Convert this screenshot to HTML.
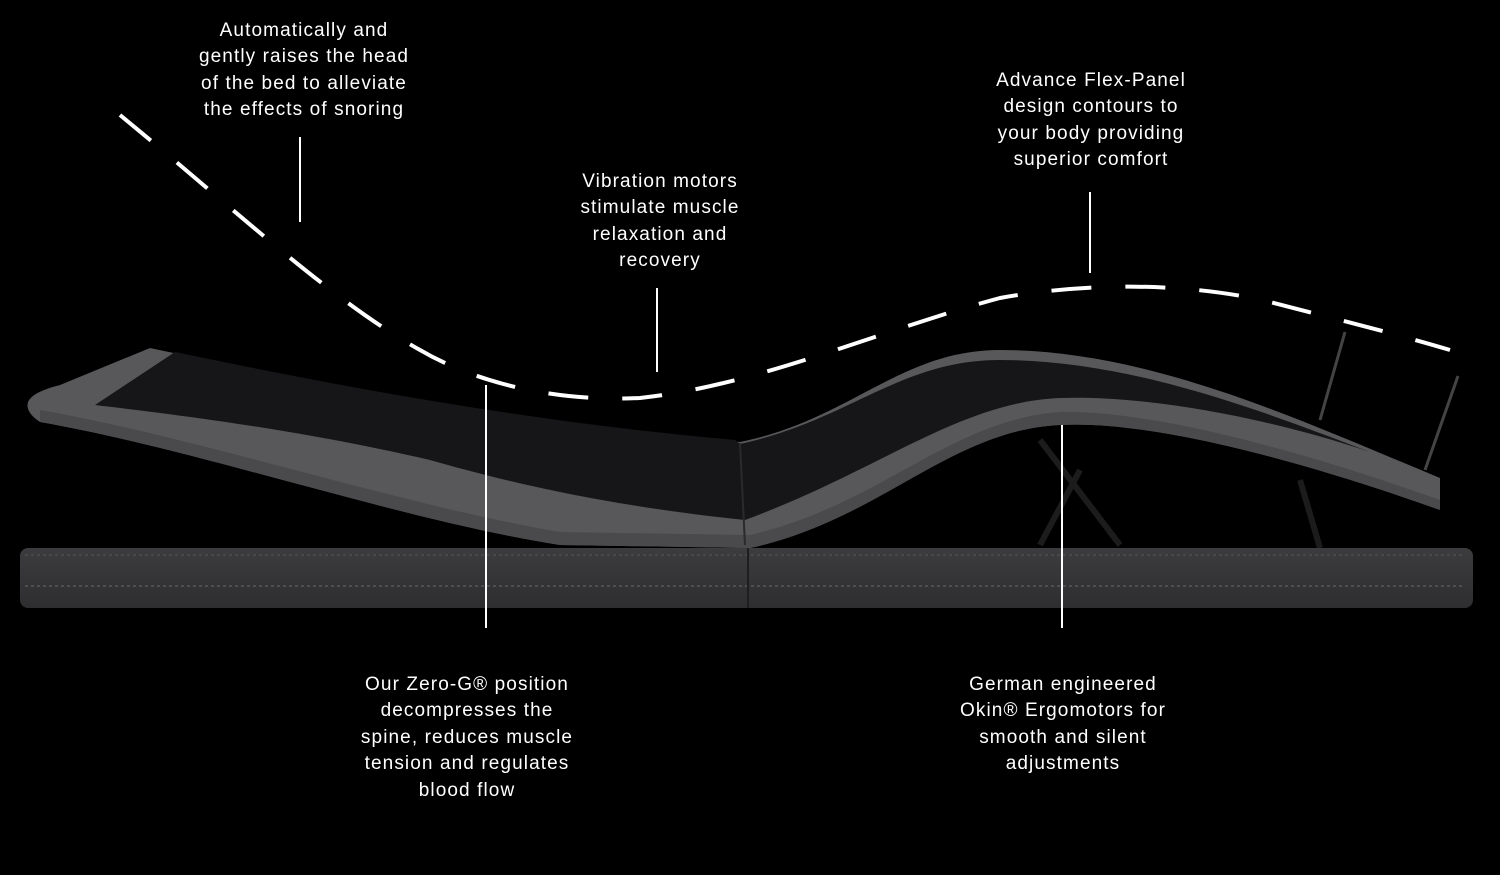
<!DOCTYPE html>
<html><head><meta charset="utf-8">
<style>
html,body{margin:0;padding:0;background:#000;}
#c{position:relative;width:1500px;height:875px;overflow:hidden;background:#000;}
.t{position:absolute;color:#fff;font-family:"Liberation Sans",sans-serif;font-size:19px;letter-spacing:1.1px;line-height:26.4px;text-align:center;white-space:nowrap;transform:translateX(-50%);}
svg{position:absolute;left:0;top:0;}
</style></head><body><div id="c">
<svg width="1500" height="875" viewBox="0 0 1500 875">
<defs>
<linearGradient id="bg" x1="0" y1="0" x2="0" y2="1"><stop offset="0" stop-color="#3c3c3e"/><stop offset="1" stop-color="#2e2e30"/></linearGradient>
</defs>
<g stroke="#1c1c1c" stroke-width="6" fill="none">
<path d="M1040,440 L1120,545"/><path d="M1080,470 L1040,545"/><path d="M1300,480 L1320,548"/>
</g>
<g stroke="#444" stroke-width="3" fill="none">
<path d="M1345,332 L1320,420"/><path d="M1458,376 L1425,470"/>
</g>
<rect x="20" y="548" width="1453" height="60" rx="8" fill="url(#bg)"/>
<path d="M25,555 L1465,555" stroke="#555" stroke-width="1" stroke-dasharray="3 3"/>
<path d="M25,586 L1465,586" stroke="#6a6a6a" stroke-width="1" stroke-dasharray="3 3"/>
<path d="M748,548 L748,608" stroke="#1e1e1e" stroke-width="2"/>
<path d="M150,348 C300,380 500,420 740,442 C850,420 900,350 1000,350 C1150,350 1300,420 1440,478 L1440,510 C1300,460 1150,420 1060,425 C950,430 880,520 750,548 L560,545 C400,520 200,450 40,422 Q25,412 28,402 Q32,392 60,385 Z" fill="#58585b"/>
<path d="M40,422 C200,450 400,520 560,545 L750,548 C880,520 950,430 1060,425 C1150,420 1300,460 1440,510 L1440,500 C1300,450 1150,410 1060,412 C950,420 880,505 750,535 L560,532 C400,505 200,438 40,410 Z" fill="#4a4a4d"/>
<path d="M175,352 C320,382 510,420 735,440 L740,444 C850,420 900,360 1000,360 C1130,360 1260,410 1370,452 C1260,415 1140,395 1060,398 C960,402 880,470 745,520 C600,505 500,480 430,460 C300,430 180,415 95,405 Z" fill="#161618"/>
<path d="M740,443 L745,545" stroke="#2a2a2a" stroke-width="2"/>
<path d="M120,115 C230,205 330,300 420,350 C480,385 560,402 640,398 C760,385 880,330 1000,298 C1100,280 1200,285 1270,302 C1340,320 1400,335 1450,350" fill="none" stroke="#fff" stroke-width="4" stroke-dasharray="40 34"/>
<g stroke="#fff" stroke-width="2">
<line x1="300" y1="137" x2="300" y2="222"/>
<line x1="657" y1="288" x2="657" y2="372"/>
<line x1="1090" y1="192" x2="1090" y2="273"/>
<line x1="486" y1="385" x2="486" y2="628"/>
<line x1="1062" y1="425" x2="1062" y2="628"/>
</g>
</svg>
<div class="t" style="left:304px;top:18px">Automatically and<br>gently raises the head<br>of the bed to alleviate<br>the effects of snoring</div>
<div class="t" style="left:660px;top:169px">Vibration motors<br>stimulate muscle<br>relaxation and<br>recovery</div>
<div class="t" style="left:1091px;top:68px">Advance Flex-Panel<br>design contours to<br>your body providing<br>superior comfort</div>
<div class="t" style="left:467px;top:672px">Our Zero-G® position<br>decompresses the<br>spine, reduces muscle<br>tension and regulates<br>blood flow</div>
<div class="t" style="left:1063px;top:672px">German engineered<br>Okin® Ergomotors for<br>smooth and silent<br>adjustments</div>
</div></body></html>
